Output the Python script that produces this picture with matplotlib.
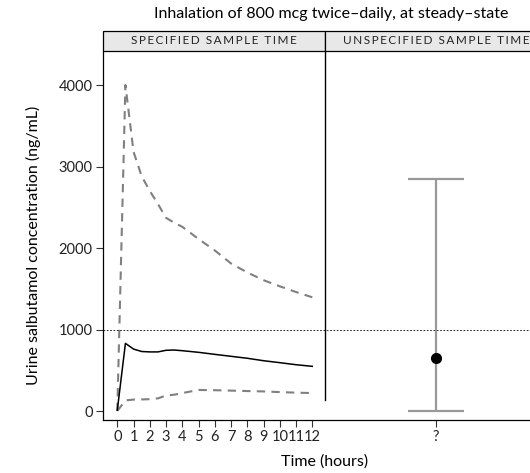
import matplotlib.pyplot as plt
from matplotlib.patches import Rectangle

plt.rcParams["font.family"] = ["Lato", "DejaVu Sans"]

# specified sample time: concentration over the dosing interval
time_h = [0, 0.5, 1, 1.5, 2, 2.5, 3, 3.5, 4, 5, 6, 7, 8, 9, 10, 11, 12]
median_conc = [10, 830, 760, 730, 725, 725, 745, 748, 740, 720, 695, 671, 647, 617, 593, 568, 548]
upper_conc = [0, 4000, 3180, 2880, 2700, 2540, 2370, 2310, 2260, 2110, 1970, 1810, 1700, 1605, 1530, 1460, 1395]
lower_conc = [0, 130, 140, 142, 145, 155, 190, 200, 220, 258, 255, 250, 245, 240, 232, 225, 220]

# unspecified sample time: one summary with range
unspec_median = 650
unspec_low = 0
unspec_high = 2850

threshold = 1000
time_ticks = list(range(13))
strip_labels = ["SPECIFIED SAMPLE TIME", "UNSPECIFIED SAMPLE TIME"]
title = "Inhalation of 800 mcg twice\u2013daily, at steady\u2013state"

W, H = 530, 473
fig = plt.figure(figsize=(W / 100, H / 100), dpi=100)

# pixel layout (right panel runs past the figure edge, like the reference)
ax_l, ax_r, ax_t, ax_b = 103, 547, 50.7, 420
x0_px, px_per_h = 117.3, 16.25
y0_px, px_per_1000 = 411, 81.5
sep_px = 325.3
q_pos = (436 - x0_px) / px_per_h

ax = fig.add_axes([ax_l / W, (H - ax_b) / H, (ax_r - ax_l) / W, (ax_b - ax_t) / H])
ax.set_xlim((ax_l - x0_px) / px_per_h, (ax_r - x0_px) / px_per_h)
ax.set_ylim(-(ax_b - y0_px) / px_per_1000 * 1000, (y0_px - ax_t) / px_per_1000 * 1000)

grey = "#808080"
ax.plot(time_h, upper_conc, color=grey, lw=1.5, ls=(0, (4, 3)))
ax.plot(time_h, lower_conc, color=grey, lw=1.5, ls=(0, (4, 3)))
ax.plot(time_h, median_conc, color="black", lw=1.1)

ax.axhline(threshold, color="black", lw=0.6, ls=(0, (2, 2)))

sep_x = (sep_px - x0_px) / px_per_h
ax.axvline(sep_x, ymin=(ax_b - 400) / (ax_b - ax_t), ymax=1, color="black", lw=1.0)

ax.errorbar([q_pos], [unspec_median],
            yerr=[[unspec_median - unspec_low], [unspec_high - unspec_median]],
            fmt="none", ecolor="#999999", elinewidth=1.6, capsize=20, capthick=1.6)
ax.plot([q_pos], [unspec_median], "o", color="black", ms=7)

ax.set_xticks(time_ticks + [q_pos])
ax.set_xticklabels([str(t) for t in time_ticks] + ["?"])
ax.set_yticks([0, 1000, 2000, 3000, 4000])
ax.tick_params(labelsize=10.5, length=5, width=0.8, colors="#333333", labelcolor="#222222", pad=2.5)
for s in ["top", "right"]:
    ax.spines[s].set_visible(False)
for s in ["left", "bottom"]:
    ax.spines[s].set_linewidth(0.9)

fig.text(33 / W, 1 - 245 / H, "Urine salbutamol concentration (ng/mL)", rotation=90,
         ha="center", va="center", fontsize=11.5)
fig.text((ax_l + ax_r) / 2 / W, 1 - 462 / H, "Time (hours)", ha="center", va="center", fontsize=11.5)
fig.text(331 / W, 1 - 14 / H, title, ha="center", va="center", fontsize=11.5)

# facet strips
strip_top = 31.2
for (left, right), label in zip([(ax_l, sep_px), (sep_px, ax_r)], strip_labels):
    fig.patches.append(Rectangle((left / W, 1 - ax_t / H), (right - left) / W, (ax_t - strip_top) / H,
                                 transform=fig.transFigure, facecolor="#e8e8e8",
                                 edgecolor="black", lw=0.9))
    spaced = "\u200a\u200a".join(label)
    fig.text((left + right) / 2 / W, 1 - (ax_t + strip_top) / 2 / H, spaced,
             ha="center", va="center", fontsize=8.5, color="#222222")

fig.savefig("out.png", dpi=100)
